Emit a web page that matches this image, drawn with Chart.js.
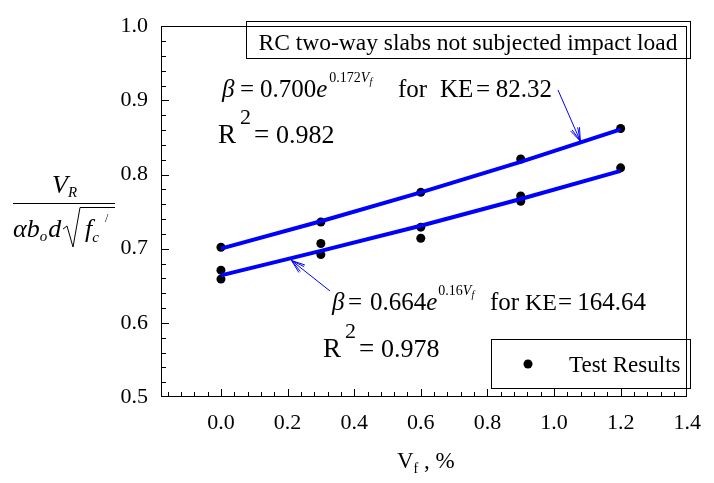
<!DOCTYPE html>
<html><head><meta charset="utf-8">
<script src="https://cdn.jsdelivr.net/npm/chart.js@4"></script>
<style>html,body{margin:0;padding:0;background:#fff}</style>
</head><body>
<canvas id="c" width="714" height="483"></canvas>
<script>
// ---- data ----
const xTickLabels = ['0.0','0.2','0.4','0.6','0.8','1.0','1.2','1.4'];
const yTickLabels = ['0.5','0.6','0.7','0.8','0.9','1.0'];
const testX = [0, 0, 0, 0.3, 0.3, 0.3, 0.6, 0.6, 0.6, 0.9, 0.9, 0.9, 1.2, 1.2];
const testY = [0.702, 0.671, 0.659, 0.736, 0.707, 0.692, 0.776, 0.729, 0.714, 0.821, 0.771, 0.764, 0.862, 0.809];
const fitX = [0, 0.3, 0.6, 0.9, 1.2];
const fitKE82 = [0.700, 0.737, 0.776, 0.817, 0.861];
const fitKE164 = [0.664, 0.697, 0.731, 0.767, 0.805];

const SERIF = '"Liberation Serif","Times New Roman",serif';
const F = (s, it) => (it ? 'italic ' : '') + s + 'px ' + SERIF;

function rich(ctx, x, y, parts) {
  for (const p of parts) {
    ctx.font = p.f;
    if (p.x !== undefined) x = p.x;
    x += (p.dx || 0);
    ctx.fillText(p.t, x, y + (p.dy || 0));
    x += ctx.measureText(p.t).width;
  }
  return x;
}
function arrow(ctx, x1, y1, x2, y2) {
  ctx.save();
  ctx.strokeStyle = '#0000ff'; ctx.lineWidth = 1;
  ctx.beginPath(); ctx.moveTo(x1, y1); ctx.lineTo(x2, y2); ctx.stroke();
  const a = Math.atan2(y2 - y1, x2 - x1);
  for (const d of [-0.35, 0.35, -0.22, 0.22]) {
    const L = 14;
    ctx.beginPath();
    ctx.moveTo(x2, y2);
    ctx.lineTo(x2 - L * Math.cos(a + d), y2 - L * Math.sin(a + d));
    ctx.stroke();
  }
  ctx.restore();
}

const decor = {
  id: 'decor',
  afterDraw(chart) {
    const ctx = chart.ctx, ca = chart.chartArea;
    const xs = chart.scales.x, ys = chart.scales.y;
    ctx.save();
    // frame
    ctx.strokeStyle = '#000'; ctx.lineWidth = 1;
    ctx.strokeRect(Math.round(ca.left) + 0.5, Math.round(ca.top) + 0.5,
      Math.round(ca.right - ca.left) - 1, Math.round(ca.bottom - ca.top) - 1);
    // inward ticks
    ctx.beginPath();
    for (let i = -4; i <= 34; i++) {
      const v = i * 0.04;
      const px = Math.round(xs.getPixelForValue(v)) + 0.5;
      const L = (i % 5 === 0) ? 8 : 5;
      ctx.moveTo(px, ca.bottom); ctx.lineTo(px, ca.bottom - L);
    }
    for (let i = 1; i < 25; i++) {
      const v = 0.5 + i * 0.02;
      const py = Math.round(ys.getPixelForValue(v)) + 0.5;
      const L = (i % 5 === 0) ? 8 : 5;
      ctx.moveTo(ca.left, py); ctx.lineTo(ca.left + L, py);
    }
    ctx.stroke();

    ctx.fillStyle = '#000';
    ctx.textBaseline = 'alphabetic';
    ctx.textAlign = 'left';

    // title box
    ctx.strokeRect(246.5, 21.5, 444, 37);
    ctx.font = F(23.5);
    ctx.textAlign = 'center';
    ctx.fillText('RC two-way slabs not subjected impact load', 468, 50);
    ctx.textAlign = 'left';

    // equation 1
    rich(ctx, 222, 97, [
      {t: 'β', f: F(25, true)},
      {t: '=', f: F(25), x: 240},
      {t: '0.700', f: F(25), x: 260},
      {t: 'e', f: F(25, true)},
      {t: '0.172', f: F(14), dy: -15, dx: 2},
      {t: 'V', f: F(14, true), dy: -15},
      {t: 'f', f: F(10, true), dy: -12},
    ]);
    rich(ctx, 398, 97, [
      {t: 'for', f: F(25)},
      {t: 'KE', f: F(25), x: 440},
      {t: '=', f: F(25), x: 476},
    ]);
    ctx.font = F(25); ctx.textAlign = 'right';
    ctx.fillText('82.32', 552, 97);
    ctx.textAlign = 'left';
    rich(ctx, 218, 143, [
      {t: 'R', f: F(27)},
      {t: '2', f: F(22), x: 240, dy: -19},
      {t: '=', f: F(27), x: 254},
      {t: '0.982', f: F(26), x: 276},
    ]);

    // equation 2
    rich(ctx, 332, 310, [
      {t: 'β', f: F(25, true)},
      {t: '=', f: F(25), x: 348},
      {t: '0.664', f: F(25), x: 370},
      {t: 'e', f: F(25, true)},
      {t: '0.16', f: F(14), dy: -15, dx: 1},
      {t: 'V', f: F(14, true), dy: -15},
      {t: 'f', f: F(10, true), dy: -12},
    ]);
    rich(ctx, 490, 310, [
      {t: 'for', f: F(25)},
      {t: 'KE', f: F(24), x: 525},
      {t: '=', f: F(25), dx: 1},
    ]);
    ctx.font = F(25); ctx.textAlign = 'right';
    ctx.fillText('164.64', 646, 310);
    ctx.textAlign = 'left';
    rich(ctx, 323, 357, [
      {t: 'R', f: F(27)},
      {t: '2', f: F(22), x: 345, dy: -19},
      {t: '=', f: F(27), x: 359},
      {t: '0.978', f: F(26), x: 381},
    ]);

    // arrows
    arrow(ctx, 558, 90, xs.getPixelForValue(1.079), ys.getPixelForValue(0.845));
    arrow(ctx, 330, 291, xs.getPixelForValue(0.212), ys.getPixelForValue(0.684));

    // legend
    ctx.strokeStyle = '#000';
    ctx.strokeRect(491.5, 339.5, 199, 49);
    ctx.beginPath(); ctx.arc(528, 364, 4.5, 0, Math.PI * 2); ctx.fill();
    ctx.font = F(23);
    ctx.fillText('Test Results', 569, 372);

    // x-axis title
    rich(ctx, 397, 468, [
      {t: 'V', f: F(23)},
      {t: 'f', f: F(14), dy: 5},
      {t: ' , %', f: F(23)},
    ]);

    // y-axis title (fraction)
    rich(ctx, 52, 193, [
      {t: 'V', f: F(26, true)},
      {t: 'R', f: F(15, true), dy: 4},
    ]);
    ctx.beginPath(); ctx.moveTo(13, 203.5); ctx.lineTo(115, 203.5); ctx.stroke();
    rich(ctx, 13, 237, [
      {t: 'α', f: F(26, true)},
      {t: 'b', f: F(26, true)},
      {t: 'o', f: F(15, true), dy: 4},
      {t: 'd', f: F(26, true), dx: 1},
    ]);
    ctx.beginPath();
    ctx.moveTo(63, 229); ctx.lineTo(67, 226); ctx.lineTo(73, 247);
    ctx.lineTo(80, 207.5); ctx.lineTo(115, 207.5);
    ctx.stroke();
    rich(ctx, 85, 237, [
      {t: 'f', f: F(26, true)},
      {t: 'c', f: F(15, true), dy: 5},
    ]);
    ctx.font = F(12);
    ctx.fillText('/', 105, 222);
    ctx.restore();
  }
};

new Chart(document.getElementById('c'), {
  type: 'scatter',
  data: {
    datasets: [
      {label: 'KE = 82.32', data: fitX.map((x, i) => ({x, y: fitKE82[i]})), showLine: true,
       borderColor: '#0000ff', borderWidth: 4, pointRadius: 0, order: 0},
      {label: 'KE = 164.64', data: fitX.map((x, i) => ({x, y: fitKE164[i]})), showLine: true,
       borderColor: '#0000ff', borderWidth: 4, pointRadius: 0, order: 0},
      {label: 'Test Results', data: testX.map((x, i) => ({x, y: testY[i]})),
       pointRadius: 4.5, backgroundColor: '#000', borderColor: '#000', borderWidth: 0, order: 1}
    ]
  },
  options: {
    responsive: false, animation: false, devicePixelRatio: 1,
    layout: {padding: {top: 17, right: 16, left: 0, bottom: 0}},
    plugins: {legend: {display: false}, tooltip: {enabled: false}},
    scales: {
      x: {
        type: 'linear', min: -0.18, max: 1.4,
        grid: {display: false, drawTicks: false}, border: {display: false},
        afterBuildTicks: s => { s.ticks = xTickLabels.map(l => ({value: parseFloat(l)})); },
        ticks: {callback: v => v.toFixed(1), font: {family: SERIF, size: 22}, color: '#000',
                padding: 13, maxRotation: 0, autoSkip: false},
        afterFit: s => { s.height = 86; }
      },
      y: {
        type: 'linear', min: 0.5, max: 1.0,
        grid: {display: false, drawTicks: false}, border: {display: false},
        afterBuildTicks: s => { s.ticks = yTickLabels.map(l => ({value: parseFloat(l)})); },
        ticks: {callback: v => v.toFixed(1), font: {family: SERIF, size: 22}, color: '#000',
                padding: 13, autoSkip: false},
        afterFit: s => { s.width = 161; }
      }
    }
  },
  plugins: [decor]
});
</script>
</body></html>
